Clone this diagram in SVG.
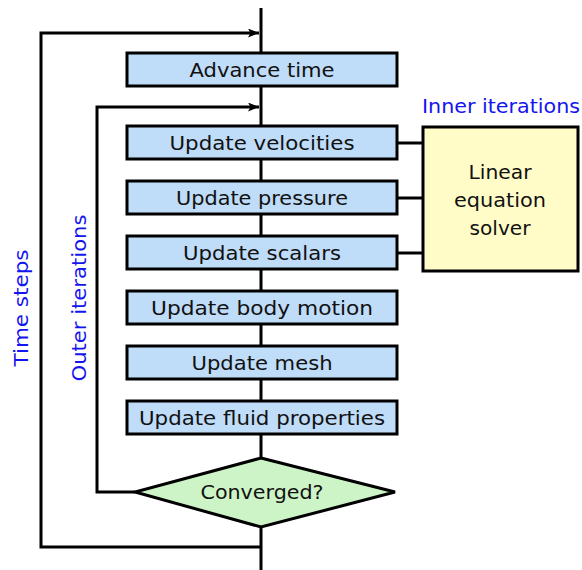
<svg xmlns="http://www.w3.org/2000/svg" width="582" height="570" viewBox="0 0 582 570">
  <style>
    .box { fill: #bfdcf8; stroke: #000; stroke-width: 3; }
    .solver { fill: #fffcc8; stroke: #000; stroke-width: 3; }
    .dec { fill: #cdf4c6; stroke: #000; stroke-width: 3; stroke-linejoin: miter; }
    .lbl { font-family: "DejaVu Sans", "Liberation Sans", sans-serif; font-size: 20px; fill: #111; text-anchor: middle; }
    .note { font-family: "DejaVu Sans", "Liberation Sans", sans-serif; font-size: 20px; fill: #1414f0; text-anchor: middle; }
    .wire { fill: none; stroke: #000; stroke-width: 3; }
  </style>
  <defs>
    <marker id="arrow" viewBox="0 0 11 9" refX="11" refY="4.5" markerWidth="11" markerHeight="9" markerUnits="userSpaceOnUse" orient="auto">
      <path d="M0,0 L11,4.5 L0,9 L2.5,4.5 Z" fill="#000"/>
    </marker>
  </defs>

  <rect width="582" height="570" fill="#fff"/>

  <!-- connectors -->
  <g id="connectors">
    <line class="wire" x1="261" y1="8" x2="261" y2="570"/>
    <!-- time-step loop -->
    <path class="wire" d="M261,547 H41 V33 H259" marker-end="url(#arrow)"/>
    <!-- outer-iteration loop -->
    <path class="wire" d="M135,492 H97 V107 H259" marker-end="url(#arrow)"/>
    <!-- links to linear solver -->
    <line class="wire" x1="397" y1="143" x2="423" y2="143"/>
    <line class="wire" x1="397" y1="198" x2="423" y2="198"/>
    <line class="wire" x1="397" y1="253" x2="423" y2="253"/>
  </g>

  <g id="advance">
    <rect class="box" x="127" y="53" width="270" height="33"/>
    <text class="lbl" x="262" y="77" textLength="145" lengthAdjust="spacingAndGlyphs">Advance time</text>
  </g>
  <g id="velocities">
    <rect class="box" x="127" y="126" width="270" height="33"/>
    <text class="lbl" x="262" y="150" textLength="185" lengthAdjust="spacingAndGlyphs">Update velocities</text>
  </g>
  <g id="pressure">
    <rect class="box" x="127" y="181" width="270" height="33"/>
    <text class="lbl" x="262" y="205" textLength="172" lengthAdjust="spacingAndGlyphs">Update pressure</text>
  </g>
  <g id="scalars">
    <rect class="box" x="127" y="236" width="270" height="33"/>
    <text class="lbl" x="262" y="260" textLength="158" lengthAdjust="spacingAndGlyphs">Update scalars</text>
  </g>
  <g id="body-motion">
    <rect class="box" x="127" y="291" width="270" height="33"/>
    <text class="lbl" x="262" y="315" textLength="222" lengthAdjust="spacingAndGlyphs">Update body motion</text>
  </g>
  <g id="mesh">
    <rect class="box" x="127" y="346" width="270" height="33"/>
    <text class="lbl" x="262" y="370" textLength="141" lengthAdjust="spacingAndGlyphs">Update mesh</text>
  </g>
  <g id="fluid-properties">
    <rect class="box" x="127" y="401" width="270" height="33"/>
    <text class="lbl" x="262" y="425" textLength="246" lengthAdjust="spacingAndGlyphs">Update fluid properties</text>
  </g>
  <g id="converged">
    <polygon class="dec" points="261,458 395,492 261,527 135,492"/>
    <text class="lbl" x="262" y="499" textLength="123" lengthAdjust="spacingAndGlyphs">Converged?</text>
  </g>
  <g id="solver">
    <rect class="solver" x="423" y="127" width="155" height="144"/>
    <text class="lbl" x="500" y="179" textLength="63" lengthAdjust="spacingAndGlyphs">Linear</text>
    <text class="lbl" x="500" y="207" textLength="92" lengthAdjust="spacingAndGlyphs">equation</text>
    <text class="lbl" x="500" y="235" textLength="61" lengthAdjust="spacingAndGlyphs">solver</text>
  </g>

  <g id="labels">
    <text class="note" x="501" y="113" textLength="158" lengthAdjust="spacingAndGlyphs">Inner iterations</text>
    <text class="note" transform="translate(28,308) rotate(-90)" x="0" y="0" textLength="117" lengthAdjust="spacingAndGlyphs">Time steps</text>
    <text class="note" transform="translate(86,298) rotate(-90)" x="0" y="0" textLength="167" lengthAdjust="spacingAndGlyphs">Outer iterations</text>
  </g>
</svg>
